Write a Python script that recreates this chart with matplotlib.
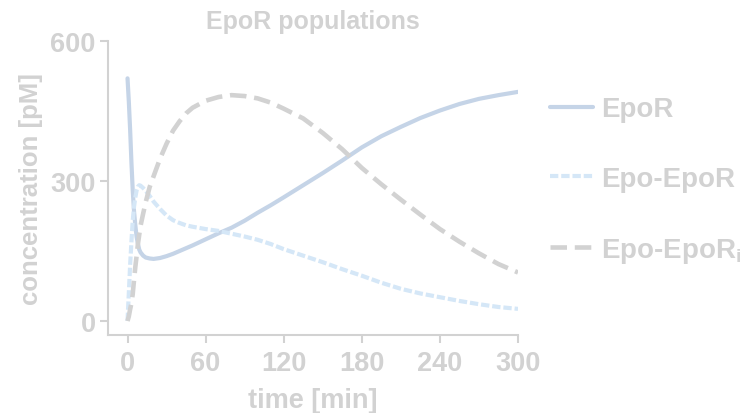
import matplotlib
matplotlib.use('Agg')
import matplotlib.pyplot as plt

# Данные
t = [0, 1, 2, 3, 4, 5, 6, 7, 8, 9, 10, 12, 14, 17, 20, 25, 30, 35, 40, 45, 50,
     60, 70, 80, 90, 100, 110, 120, 135, 150, 165, 180, 195, 210, 225, 240,
     255, 270, 285, 300]
epor = [520, 470, 410, 340, 280, 235, 205, 180, 165, 153, 147, 140, 136, 134,
        133, 135, 139, 144, 150, 156, 162, 175, 188, 200, 215, 232, 248, 265,
        291, 317, 344, 372, 396, 416, 435, 451, 465, 476, 484, 491]
epo_epor = [0, 60, 120, 170, 215, 245, 265, 280, 288, 291, 290, 285, 279, 268,
            256, 240, 226, 216, 210, 205, 202, 197, 193, 187, 181, 174, 165,
            154, 140, 126, 111, 97, 82, 69, 59, 51, 43, 36, 30, 26]
epo_epor_i = [0, 10, 25, 38, 58, 88, 116, 140, 165, 185, 204, 230, 255, 287,
              310, 348, 380, 408, 428, 445, 457, 472, 480, 484, 482, 477, 468,
              455, 434, 403, 368, 328, 293, 260, 228, 197, 170, 145, 122, 104]
xticks = [0, 60, 120, 180, 240, 300]
yticks = [0, 300, 600]

grey = '#d2d2d2'
plt.rcParams['font.family'] = ['Liberation Sans', 'DejaVu Sans']
plt.rcParams['font.weight'] = 'bold'
plt.rcParams['mathtext.fontset'] = 'custom'
plt.rcParams['mathtext.rm'] = 'Liberation Sans:bold'
plt.rcParams['mathtext.default'] = 'rm'

fig = plt.figure(figsize=(7.42, 4.14), dpi=100)
ax = fig.add_axes([108 / 742, 1 - 336 / 414, 410 / 742, 294 / 414])

ax.plot(t, epor, color='#c5d4e7', lw=3.0, label='EpoR', solid_capstyle='round')
ax.plot(t, epo_epor, color='#d5e7f7', lw=3.0, dashes=(2.0, 0.7),
        label='Epo-EpoR')
ax.plot(t, epo_epor_i, color=grey, lw=3.3, dashes=(3.6, 1.7),
        label=r'Epo-EpoR$_{i}$')

ax.set_xlim(-15, 300)
ax.set_ylim(-30, 600)
ax.set_xticks(xticks)
ax.set_yticks(yticks)
for s in ['top', 'right']:
    ax.spines[s].set_visible(False)
for s in ['left', 'bottom']:
    ax.spines[s].set_color(grey)
    ax.spines[s].set_linewidth(1.5)
ax.tick_params(colors=grey, width=1.5, length=6, labelsize=19.5, pad=3)
ax.tick_params(axis='x', pad=5)

ax.set_title('EpoR populations', fontsize=18, color=grey, fontweight='bold', pad=9)
ax.set_xlabel('time [min]', fontsize=19.5, color=grey, fontweight='bold', labelpad=8)
ax.set_ylabel('concentration [pM]', fontsize=18.5, color=grey, fontweight='bold', labelpad=5)

leg = ax.legend(loc='center left', bbox_to_anchor=(1.051, 0.525), frameon=False,
                fontsize=20, handlelength=1.55, handletextpad=0.3,
                labelspacing=1.58, borderaxespad=0)
for txt in leg.get_texts():
    txt.set_color(grey)

fig.savefig('out.png', dpi=100)
